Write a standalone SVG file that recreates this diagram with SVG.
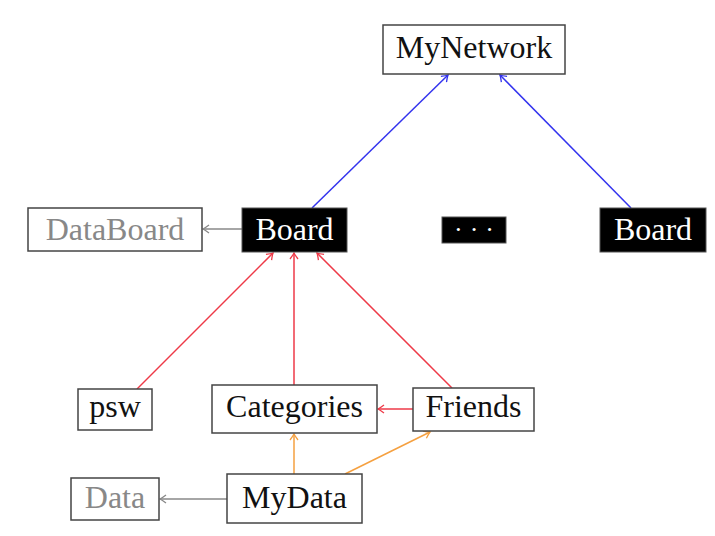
<svg xmlns="http://www.w3.org/2000/svg" width="715" height="536" viewBox="0 0 715 536">
<style>
.box{fill:#fff;stroke:#444;stroke-width:1.5}
.blk{fill:#000;stroke:#555;stroke-width:1}
.t{font-family:"Liberation Serif","DejaVu Serif",serif;font-size:32px;text-anchor:middle;fill:#111}
.g{fill:#888}
.w{fill:#fff}
.e{fill:none;stroke-width:1.5}
.blue{stroke:#3333ee}
.red{stroke:#ee3a48}
.orange{stroke:#f5a040}
.gray{stroke:#888}
</style>
<defs>
<marker id="ab" viewBox="-8 -5 10 10" refX="0" refY="0" markerWidth="10" markerHeight="10" markerUnits="userSpaceOnUse" orient="auto"><path d="M-6,-4 Q-2,-1 0,0 Q-2,1 -6,4" fill="none" stroke="#3333ee" stroke-width="1.3"/></marker>
<marker id="ar" viewBox="-8 -5 10 10" refX="0" refY="0" markerWidth="10" markerHeight="10" markerUnits="userSpaceOnUse" orient="auto"><path d="M-6,-4 Q-2,-1 0,0 Q-2,1 -6,4" fill="none" stroke="#ee3a48" stroke-width="1.3"/></marker>
<marker id="ao" viewBox="-8 -5 10 10" refX="0" refY="0" markerWidth="10" markerHeight="10" markerUnits="userSpaceOnUse" orient="auto"><path d="M-6,-4 Q-2,-1 0,0 Q-2,1 -6,4" fill="none" stroke="#f5a040" stroke-width="1.3"/></marker>
<marker id="ag" viewBox="-8 -5 10 10" refX="0" refY="0" markerWidth="10" markerHeight="10" markerUnits="userSpaceOnUse" orient="auto"><path d="M-6,-4 Q-2,-1 0,0 Q-2,1 -6,4" fill="none" stroke="#888" stroke-width="1.3"/></marker>
</defs>
<g id="connectors">
<line class="e blue" x1="312" y1="208" x2="448" y2="75" marker-end="url(#ab)"/>
<line class="e blue" x1="631" y1="208" x2="500" y2="75" marker-end="url(#ab)"/>
<line class="e gray" x1="242" y1="229" x2="203" y2="229" marker-end="url(#ag)"/>
<line class="e red" x1="137" y1="389" x2="273" y2="253" marker-end="url(#ar)"/>
<line class="e red" x1="294" y1="385" x2="294" y2="253" marker-end="url(#ar)"/>
<line class="e red" x1="452" y1="388" x2="317" y2="253" marker-end="url(#ar)"/>
<line class="e red" x1="413" y1="409" x2="378" y2="409" marker-end="url(#ar)"/>
<line class="e orange" x1="294" y1="474" x2="294" y2="434" marker-end="url(#ao)"/>
<line class="e orange" x1="345" y1="474" x2="430" y2="432" marker-end="url(#ao)"/>
<line class="e gray" x1="227" y1="499" x2="160" y2="499" marker-end="url(#ag)"/>
</g>
<g id="mynetwork"><rect class="box" x="383" y="25" width="182" height="49"/><text class="t" x="474" y="58">MyNetwork</text></g>
<g id="databoard"><rect class="box" x="28" y="208" width="174" height="43"/><text class="t g" x="115" y="240">DataBoard</text></g>
<g id="board1"><rect class="blk" x="242" y="208" width="105" height="44"/><text class="t w" x="294.5" y="240">Board</text></g>
<g id="dots"><rect class="blk" x="442" y="217" width="64" height="26"/><text class="t w" x="474" y="238" style="font-size:26px" textLength="40" lengthAdjust="spacing">· · ·</text></g>
<g id="board2"><rect class="blk" x="600" y="208" width="106" height="44"/><text class="t w" x="653" y="240">Board</text></g>
<g id="psw"><rect class="box" x="78" y="389" width="74" height="41"/><text class="t" x="115" y="417">psw</text></g>
<g id="categories"><rect class="box" x="212" y="385" width="165" height="48"/><text class="t" x="294.5" y="417">Categories</text></g>
<g id="friends"><rect class="box" x="413" y="388" width="121" height="43"/><text class="t" x="473.5" y="417">Friends</text></g>
<g id="data"><rect class="box" x="71" y="478" width="88" height="42"/><text class="t g" x="115" y="508">Data</text></g>
<g id="mydata"><rect class="box" x="227" y="474" width="135" height="49"/><text class="t" x="294.5" y="508">MyData</text></g>
</svg>
